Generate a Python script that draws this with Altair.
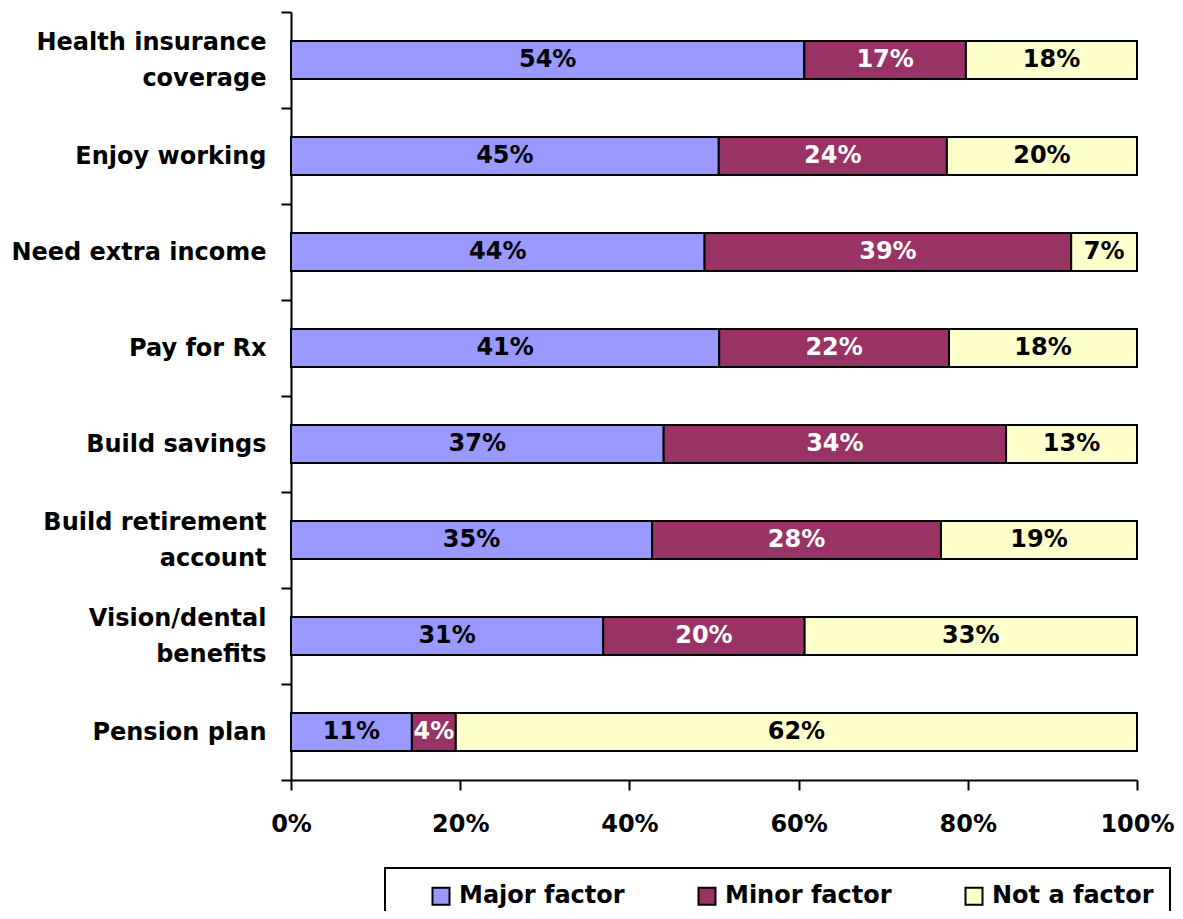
import altair as alt
import pandas as pd

categories = [
    "Health insurance\ncoverage",
    "Enjoy working",
    "Need extra income",
    "Pay for Rx",
    "Build savings",
    "Build retirement\naccount",
    "Vision/dental\nbenefits",
    "Pension plan",
]
factors = ["Major factor", "Minor factor", "Not a factor"]
major = [54, 45, 44, 41, 37, 35, 31, 11]
minor = [17, 24, 39, 22, 34, 28, 20, 4]
not_factor = [18, 20, 7, 18, 13, 19, 33, 62]
colors = ["#9999FF", "#993366", "#FFFFCC"]
x_ticks = [0, 0.2, 0.4, 0.6, 0.8, 1.0]

rows = []
for i, c in enumerate(categories):
    for j, (f, vals) in enumerate(zip(factors, [major, minor, not_factor])):
        rows.append({"category": c, "factor": f, "order": j, "value": vals[i]})
df = pd.DataFrame(rows)

FONT = "DejaVu Sans"

base = (
    alt.Chart(df)
    .transform_stack(
        stack="value",
        groupby=["category"],
        as_=["x0", "x1"],
        offset="normalize",
        sort=[alt.SortField("order", order="ascending")],
    )
    .transform_calculate(mid="(datum.x0 + datum.x1) / 2", label="datum.value + '%'")
)

y_enc = alt.Y(
    "category:N",
    sort=categories,
    title=None,
    scale=alt.Scale(paddingInner=0, paddingOuter=0),
    axis=alt.Axis(
        tickBand="extent",
        tickSize=10,
        labelPadding=15,
        labelLineHeight=36,
        labelExpr="datum.value ? split(datum.value, '\\n') : ''",
        labelOffset={
            "condition": {"test": "datum.value && indexof(datum.value, '\\n') >= 0", "value": -18},
            "value": 0,
        },
        labelLimit=400,
    ),
)

bars = base.mark_bar(stroke="black", strokeWidth=2, height=38).encode(
    x=alt.X(
        "x0:Q",
        title=None,
        scale=alt.Scale(domain=[0, 1], nice=False),
        axis=alt.Axis(values=x_ticks, format=".0%", tickSize=10, labelPadding=22, labelFlush=False),
    ),
    x2="x1:Q",
    y=y_enc,
    color=alt.Color(
        "factor:N",
        sort=factors,
        scale=alt.Scale(domain=factors, range=colors),
        legend=alt.Legend(
            title=None,
            orient="none",
            legendX=94,
            legendY=856,
            direction="horizontal",
            symbolType="square",
            symbolSize=289,
            symbolStrokeColor="black",
            symbolStrokeWidth=2,
            symbolOffset=28,
            labelOffset=6,
            labelLimit=400,
            columnPadding=42,
            padding=16,
            strokeColor="black",
            fillColor="white",
        ),
    ),
)

text = base.mark_text(font=FONT, fontWeight="bold", fontSize=24, baseline="middle").encode(
    x="mid:Q",
    y=y_enc,
    text="label:N",
    color=alt.condition(alt.datum.factor == "Minor factor", alt.value("white"), alt.value("black")),
)

chart = (
    alt.layer(bars, text)
    .properties(
        width=846,
        height=768,
        autosize=alt.AutoSizeParams(type="none"),
        padding={"left": 283, "top": 4, "right": 38, "bottom": 131},
    )
    .configure_view(stroke=None)
    .configure_axis(
        grid=False,
        domainColor="black",
        domainWidth=2,
        tickColor="black",
        tickWidth=2,
        labelFont=FONT,
        labelFontWeight="bold",
        labelFontSize=24,
        labelColor="black",
    )
    .configure_legend(
        labelFont=FONT,
        labelFontWeight="bold",
        labelFontSize=24,
        labelColor="black",
        strokeWidth=2,
    )
)

chart.save("out.html", embed_options={"renderer": "svg", "actions": False})
